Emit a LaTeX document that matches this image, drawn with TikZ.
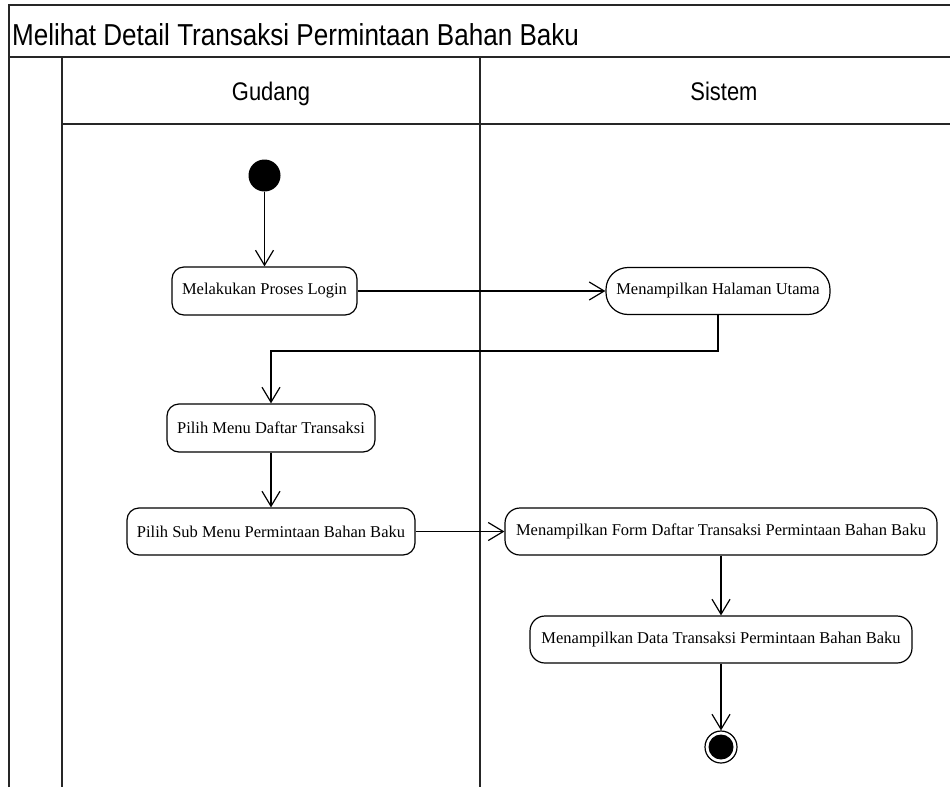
\documentclass[tikz,border=0pt]{standalone}
\usepackage{fontspec}
\setmainfont{Liberation Serif}
\newfontfamily\headfont[FakeStretch=0.86]{Liberation Sans}
\usetikzlibrary{arrows.meta}

\begin{document}
\begin{tikzpicture}[x=1pt, y=-1pt,
  frame/.style={line width=1.4pt, draw=black!85},
  act/.style={draw, line width=1.2pt, rounded corners=12pt, inner sep=0pt,
    font=\fontsize{16.5}{18}\selectfont},
  flow/.style={line width=1.2pt, -{Straight Barb[length=15pt, width=18pt, line width=1.2pt]}},
  titletext/.style={font=\headfont\fontsize{30.3}{33}\selectfont, inner sep=0pt},
  lanetext/.style={font=\headfont\fontsize{25.5}{28}\selectfont, inner sep=0pt},
]
\useasboundingbox (0,0) rectangle (950,787);

% swimlane frame
\draw[frame] (9,787) -- (9,5) -- (950,5);
\draw[frame] (9,57) -- (950,57);
\draw[frame] (62,57) -- (62,787);
\draw[frame] (480,57) -- (480,787);
\draw[frame] (62,124) -- (950,124);

% titles
\node[titletext, anchor=base west] (title) at (12,45) {Melihat Detail Transaksi Permintaan Bahan Baku};
\node[lanetext, anchor=base] (gudang) at (271,100) {Gudang};
\node[lanetext, anchor=base] (sistem) at (724,100) {Sistem};

% activities
\node[circle, fill=black, minimum size=32pt, inner sep=0pt] (start) at (264.5,175.5) {};
\node[act, minimum width=185pt, minimum height=48pt] (login) at (264.5,291) {Melakukan Proses Login};
\node[act, rounded corners=22pt, minimum width=224pt, minimum height=47pt] (home) at (718,291) {Menampilkan Halaman Utama};
\node[act, minimum width=208pt, minimum height=48pt] (menu) at (271,428) {Pilih Menu Daftar Transaksi};
\node[act, minimum width=288pt, minimum height=47pt] (submenu) at (271,531.5) {Pilih Sub Menu Permintaan Bahan Baku};
\node[act, rounded corners=15pt, minimum width=432pt, minimum height=47pt] (form) at (721,531.5) {Menampilkan Form Daftar Transaksi Permintaan Bahan Baku};
\node[act, rounded corners=15pt, minimum width=382pt, minimum height=47pt] (data) at (721,639.5) {Menampilkan Data Transaksi Permintaan Bahan Baku};
\node[circle, draw, line width=1.2pt, minimum size=32pt, inner sep=0pt] (end) at (721,747) {};
\fill (end.center) circle (12.5pt);

% flows
\coordinate (bend) at (271,351);
\draw[flow] (start) -- (login);
\draw[flow] (login) -- (home);
\draw[flow] (home.south) |- (bend) -- (menu.north);
\draw[flow] (menu) -- (submenu);
\draw[flow] (submenu) -- (form);
\draw[flow] (form) -- (data);
\draw[flow] (data) -- (end);
\end{tikzpicture}
\end{document}
